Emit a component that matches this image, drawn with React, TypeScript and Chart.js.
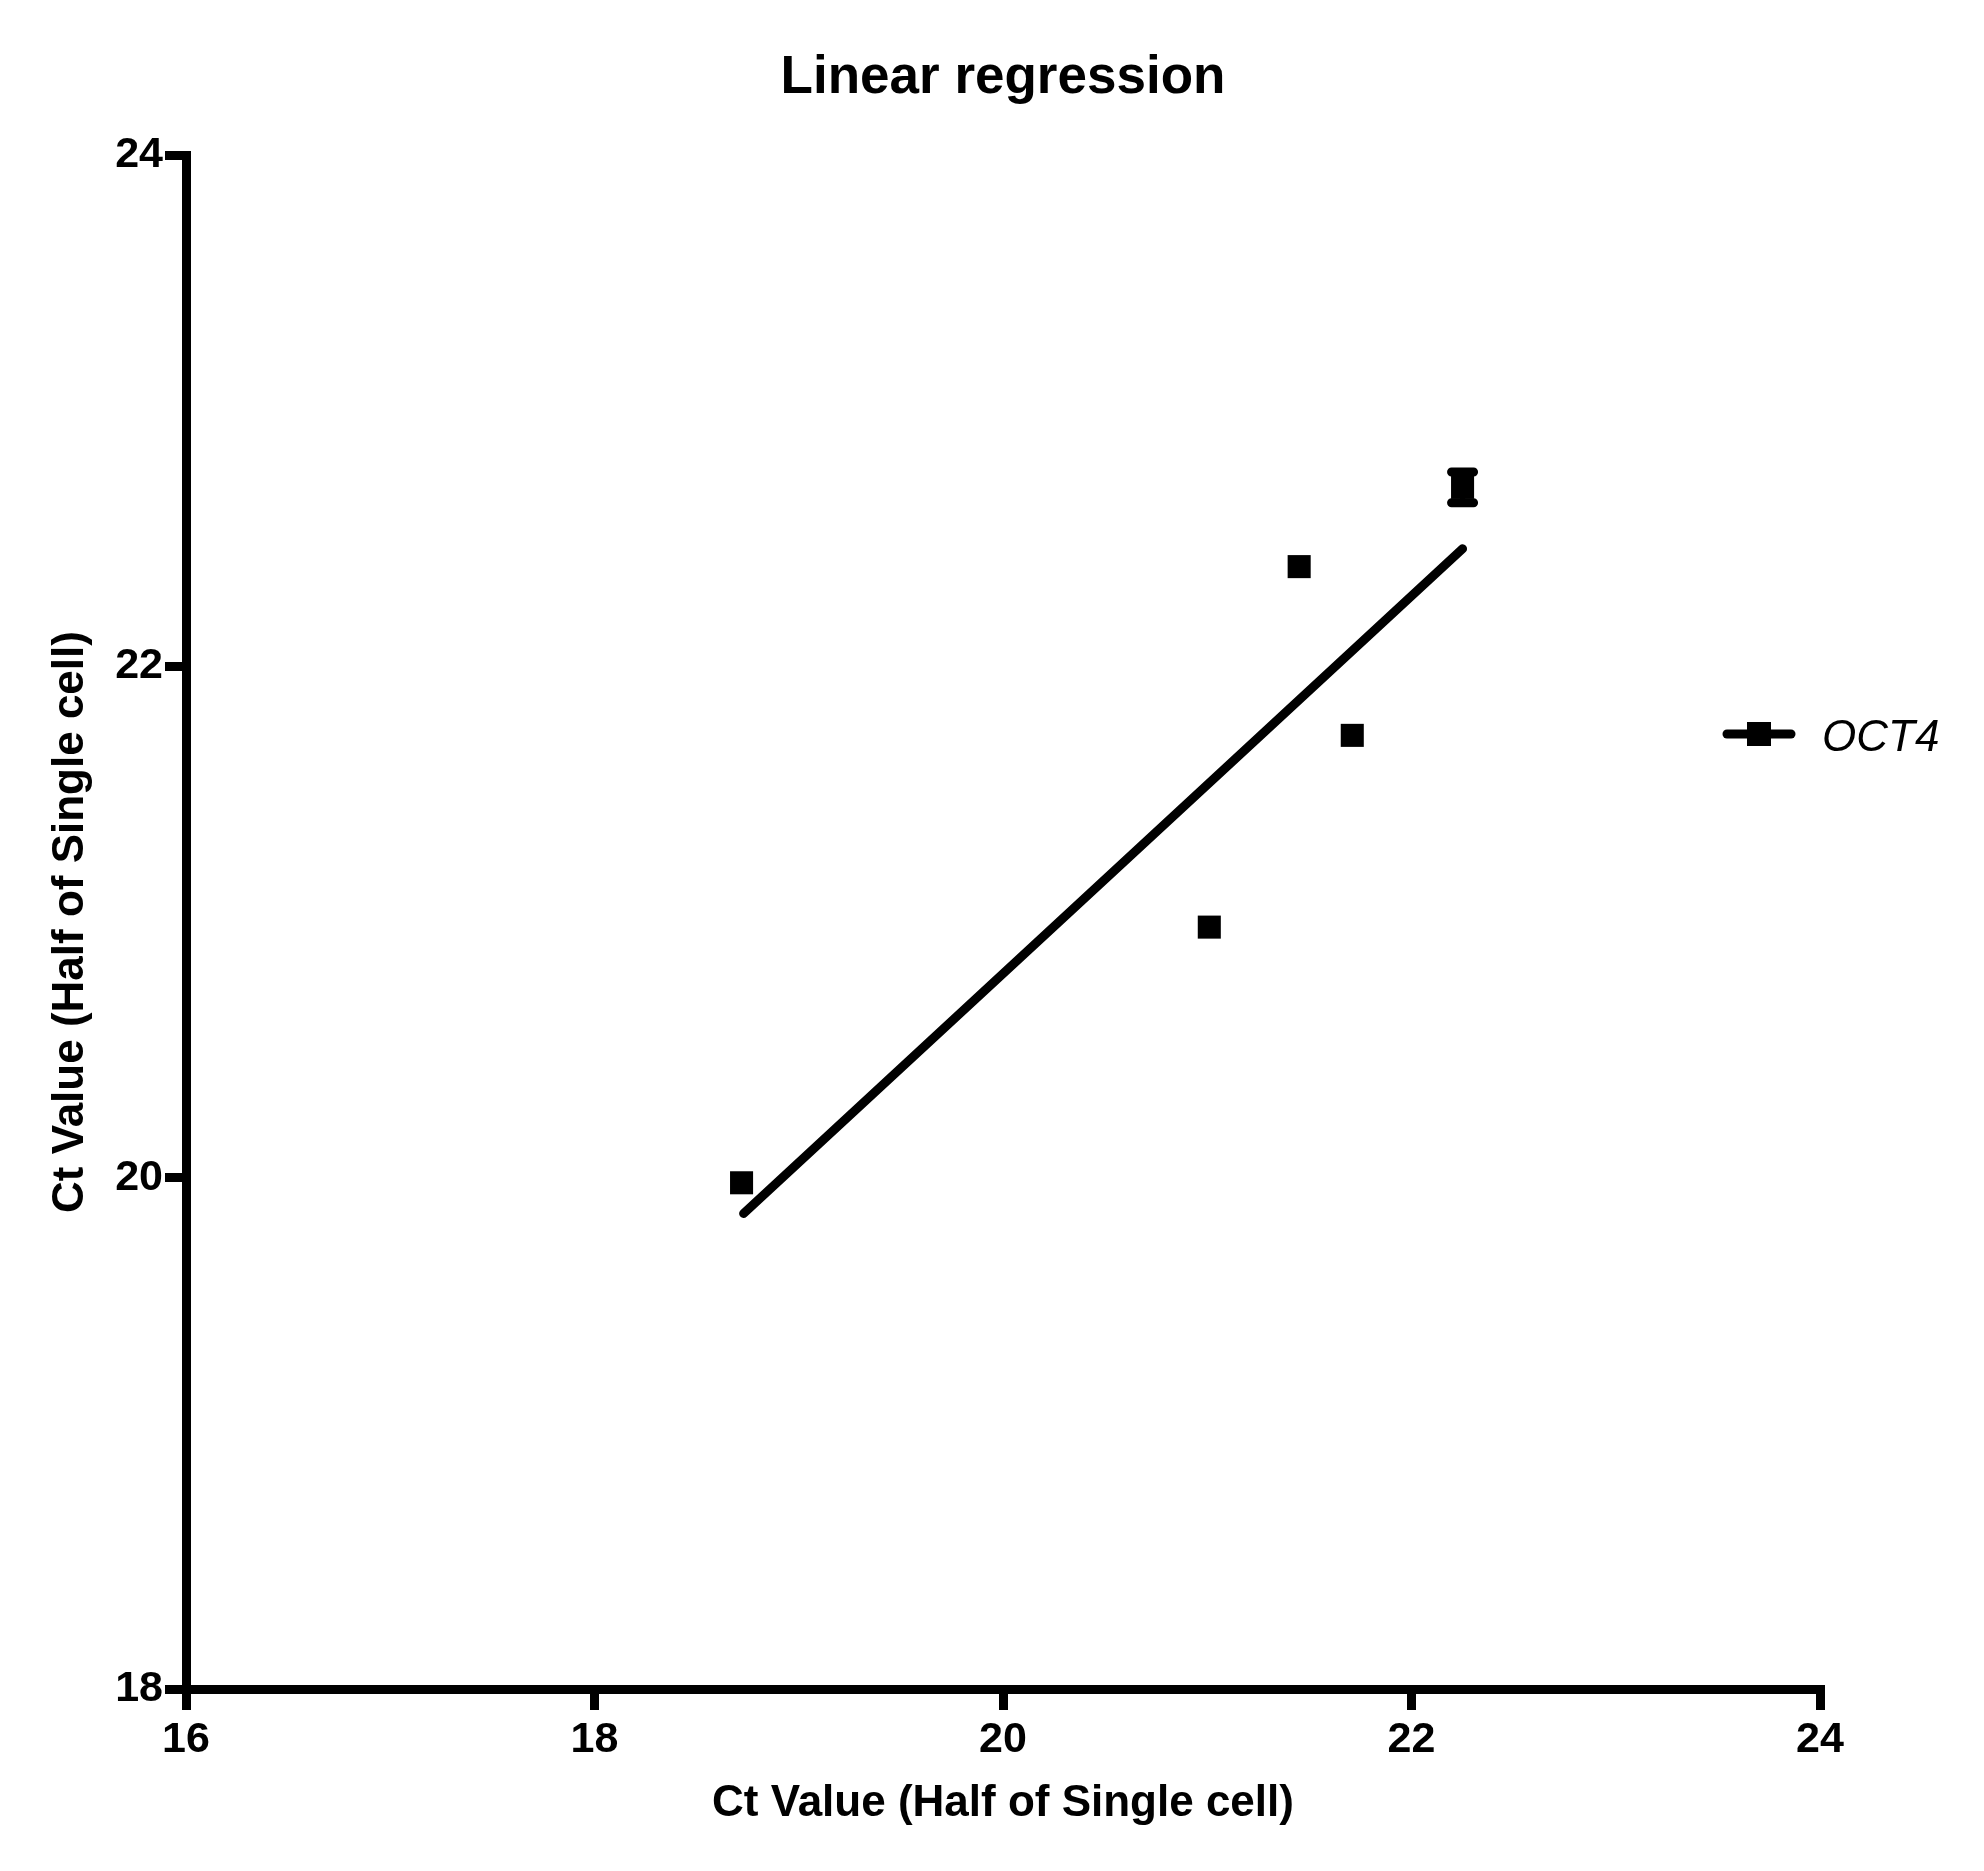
import React, { useEffect, useRef } from "react";
import { Chart, registerables } from "chart.js";

Chart.register(...registerables);

const seriesLabel = "OCT4";
const titleText = "Linear regression";
const xTitle = "Ct Value (Half of Single cell)";
const yTitle = "Ct Value (Half of Single cell)";

const xValues = [18.72, 21.01, 21.45, 21.71, 22.25];
const yValues = [19.98, 20.98, 22.39, 21.73, 22.7];
const yErrors = [0, 0, 0, 0, 0.06];

const fitX = [18.73, 22.25];
const fitY = [19.86, 22.46];

const xTicks = [16, 18, 20, 22, 24];
const yTicks = [18, 20, 22, 24];

const FONT = "'Liberation Sans', Arial, Helvetica, sans-serif";

const errorBarPlugin = {
  id: "errorBars",
  afterDatasetsDraw(chart: any) {
    const { ctx, scales } = chart;
    const xs = scales.x;
    const ys = scales.y;
    ctx.save();
    ctx.strokeStyle = "#000";
    xValues.forEach((xv, i) => {
      const e = yErrors[i];
      if (!e) return;
      const px = xs.getPixelForValue(xv);
      const top = ys.getPixelForValue(yValues[i] + e);
      const bot = ys.getPixelForValue(yValues[i] - e);
      ctx.lineWidth = 5;
      ctx.lineCap = "butt";
      ctx.beginPath();
      ctx.moveTo(px, top);
      ctx.lineTo(px, bot);
      ctx.stroke();
      ctx.lineWidth = 9;
      ctx.lineCap = "round";
      ctx.beginPath();
      ctx.moveTo(px - 11, top);
      ctx.lineTo(px + 11, top);
      ctx.moveTo(px - 11, bot);
      ctx.lineTo(px + 11, bot);
      ctx.stroke();
    });
    ctx.restore();
  },
};

const legendPlugin = {
  id: "customLegend",
  afterDraw(chart: any) {
    const { ctx } = chart;
    const cy = 734;
    ctx.save();
    ctx.strokeStyle = "#000";
    ctx.fillStyle = "#000";
    ctx.lineWidth = 9;
    ctx.lineCap = "round";
    ctx.beginPath();
    ctx.moveTo(1727, cy);
    ctx.lineTo(1791, cy);
    ctx.stroke();
    ctx.fillRect(1747, cy - 12, 24, 24);
    ctx.font = `italic 44px ${FONT}`;
    ctx.textBaseline = "alphabetic";
    ctx.textAlign = "left";
    ctx.fillText(seriesLabel, 1822, 751);
    ctx.restore();
  },
};

export default function App() {
  const ref = useRef<HTMLCanvasElement | null>(null);

  useEffect(() => {
    if (!ref.current) return;
    const chart = new Chart(ref.current, {
      type: "scatter",
      data: {
        datasets: [
          {
            label: "fit",
            data: fitX.map((x, i) => ({ x, y: fitY[i] })),
            showLine: true,
            borderColor: "#000",
            borderWidth: 9,
            borderCapStyle: "round",
            pointRadius: 0,
            pointHoverRadius: 0,
          } as any,
          {
            label: seriesLabel,
            data: xValues.map((x, i) => ({ x, y: yValues[i] })),
            pointStyle: "rect",
            pointRadius: 16.3,
            pointBorderWidth: 0,
            backgroundColor: "#000",
            borderColor: "#000",
            borderWidth: 0,
          } as any,
        ],
      },
      options: {
        animation: false,
        responsive: false,
        devicePixelRatio: 1,
        layout: { padding: { left: 0, right: 164, top: 0, bottom: 0 } },
        plugins: {
          legend: { display: false },
          tooltip: { enabled: false },
          title: {
            display: true,
            text: titleText,
            fullSize: false,
            color: "#000",
            font: { family: FONT, size: 53, weight: "bold", lineHeight: 1.2 },
            padding: { top: 47, bottom: 44.4 },
          },
        },
        scales: {
          x: {
            type: "linear",
            min: 16,
            max: 24,
            afterBuildTicks: (s: any) => {
              s.ticks = xTicks.map((v) => ({ value: v }));
            },
            afterFit: (s: any) => {
              s.height = 182;
            },
            ticks: {
              color: "#000",
              padding: 4,
              font: { family: FONT, size: 43, weight: "bold" },
            },
            grid: {
              drawOnChartArea: false,
              drawTicks: true,
              tickLength: 21,
              lineWidth: 9,
              color: "#000",
            },
            border: { display: true, color: "#000", width: 9 },
            title: {
              display: true,
              text: xTitle,
              color: "#000",
              font: { family: FONT, size: 44, weight: "bold", lineHeight: 1.2 },
              padding: { top: 41, bottom: 41 },
            },
          },
          y: {
            type: "linear",
            min: 18,
            max: 24,
            afterBuildTicks: (s: any) => {
              s.ticks = yTicks.map((v) => ({ value: v }));
            },
            afterFit: (s: any) => {
              s.width = 186;
            },
            ticks: {
              color: "#000",
              padding: 2,
              font: { family: FONT, size: 43, weight: "bold" },
            },
            grid: {
              drawOnChartArea: false,
              drawTicks: true,
              tickLength: 21,
              lineWidth: 9,
              color: "#000",
            },
            border: { display: true, color: "#000", width: 9 },
            title: {
              display: true,
              text: yTitle,
              color: "#000",
              font: { family: FONT, size: 44, weight: "bold", lineHeight: 1.2 },
              padding: { top: 44, bottom: 44 },
            },
          },
        },
      },
      plugins: [errorBarPlugin, legendPlugin],
    } as any);
    return () => chart.destroy();
  }, []);

  return (
    <div style={{ position: "absolute", left: 0, top: 0, width: 1984, height: 1871, background: "#fff" }}>
      <canvas ref={ref} width={1984} height={1871} style={{ width: 1984, height: 1871, display: "block" }} />
    </div>
  );
}
